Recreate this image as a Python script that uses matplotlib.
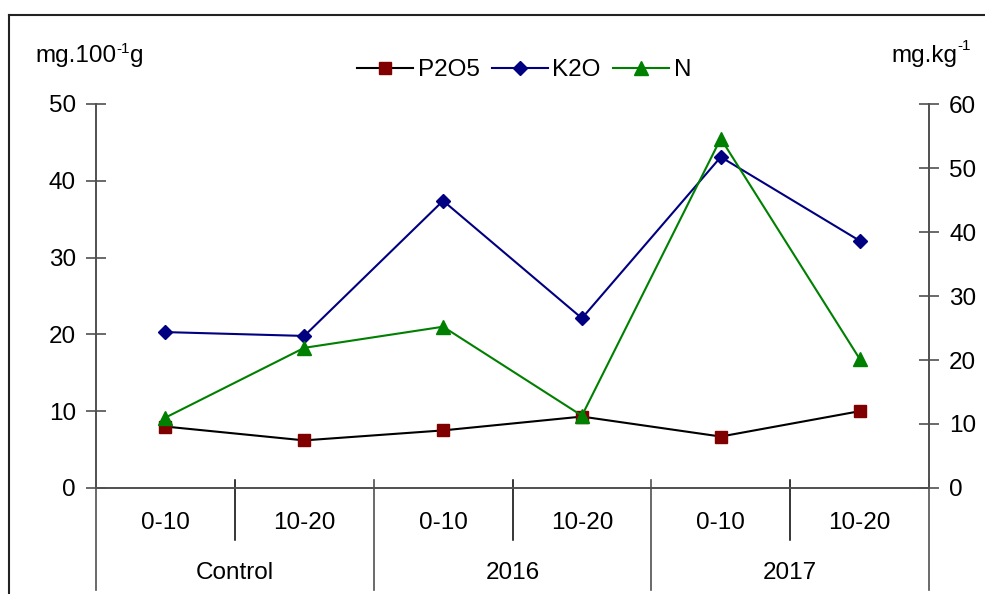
import matplotlib.pyplot as plt
from matplotlib.lines import Line2D

plt.rcParams['font.family'] = ['Liberation Sans', 'DejaVu Sans']

FS = 17.5
FS_SUP = 11

# soil depth (cm) within each group
depths = ['0-10', '10-20', '0-10', '10-20', '0-10', '10-20']
groups = ['Control', '2016', '2017']

# mg.100-1g (left axis)
p2o5 = [8.0, 6.2, 7.5, 9.3, 6.7, 10.0]
k2o = [20.3, 19.8, 37.4, 22.1, 43.1, 32.2]
# mg.kg-1 (right axis)
n_vals = [11.0, 21.9, 25.2, 11.3, 54.6, 20.2]

W, H = 985, 594
fig = plt.figure(figsize=(W / 100, H / 100), dpi=100)
ax = fig.add_axes([96 / W, 106 / H, 833 / W, 384 / H])
ax2 = ax.twinx()

x = [i + 0.5 for i in range(len(depths))]
l1, = ax.plot(x, p2o5, color='black', lw=1.5, marker='s', ms=8.5,
              mfc='#800000', mec='#800000', label='P2O5')
l2, = ax.plot(x, k2o, color='#000080', lw=1.5, marker='D', ms=7.5,
              mfc='#000080', mec='#000080', label='K2O')
l3, = ax2.plot(x, n_vals, color='#008000', lw=1.5, marker='^', ms=9.5,
               mfc='#008000', mec='#008000', label='N')

ax.set_xlim(0, 6)
ax.set_ylim(0, 50)
ax2.set_ylim(0, 60)
ax.set_yticks(range(0, 51, 10))
ax2.set_yticks(range(0, 61, 10))

for a in (ax, ax2):
    a.spines['top'].set_visible(False)
    for s in a.spines.values():
        s.set_color('#505050')
        s.set_linewidth(1.2)
    a.tick_params(axis='y', direction='inout', length=15, width=1.2,
                  color='#505050', labelsize=FS, pad=7)
    a.set_xticks([])

# category axis below the plot
tr = ax.get_xaxis_transform()
for xs in (1, 3, 5):
    ax.add_line(Line2D([xs, xs], [0.021, -0.135], transform=tr, color='black',
                       lw=1.1, clip_on=False))
for xs in (0, 2, 4, 6):
    ax.add_line(Line2D([xs, xs], [0.021, -0.266], transform=tr, color='#505050',
                       lw=1.2, clip_on=False))
for xi, d in zip(x, depths):
    ax.text(xi, -0.091, d, transform=tr, ha='center', va='center', fontsize=FS)
for gi, g in enumerate(groups):
    ax.text(2 * gi + 1, -0.221, g, transform=tr, ha='center', va='center', fontsize=FS)


def fy(py):
    # pixel row from the top -> figure fraction
    return 1 - py / H


# unit labels with superscripts
base = fy(62.3)
t_left = fig.text(35 / W, base, 'mg.100', fontsize=FS, ha='left', va='baseline')
sup_left = ax.annotate('-1', xy=(1, fy(53.3)), xycoords=(t_left, 'figure fraction'),
                       xytext=(0.3, 0), textcoords='offset points',
                       fontsize=FS_SUP, ha='left', va='baseline', annotation_clip=False)
ax.annotate('g', xy=(1, base), xycoords=(sup_left, 'figure fraction'),
            fontsize=FS, ha='left', va='baseline', annotation_clip=False)

t_right = fig.text(957 / W, base, 'mg.kg', fontsize=FS, ha='right', va='baseline')
ax.annotate('-1', xy=(1, fy(50)), xycoords=(t_right, 'figure fraction'),
            xytext=(0.3, 0), textcoords='offset points',
            fontsize=FS_SUP, ha='left', va='baseline', annotation_clip=False)

fig.legend(handles=[l1, l2, l3], loc='center', bbox_to_anchor=(524 / W, fy(70)),
           ncol=3, frameon=False, fontsize=FS, handlelength=2.3, handletextpad=0.2,
           columnspacing=0.5)

# outer frame (left and top edges)
fig.add_artist(Line2D([9 / W, 9 / W], [0, fy(15)], transform=fig.transFigure,
                      color='#222222', lw=1.5))
fig.add_artist(Line2D([9 / W, 1], [fy(15), fy(15)], transform=fig.transFigure,
                      color='#222222', lw=1.5))

fig.savefig('out.png', dpi=100)
